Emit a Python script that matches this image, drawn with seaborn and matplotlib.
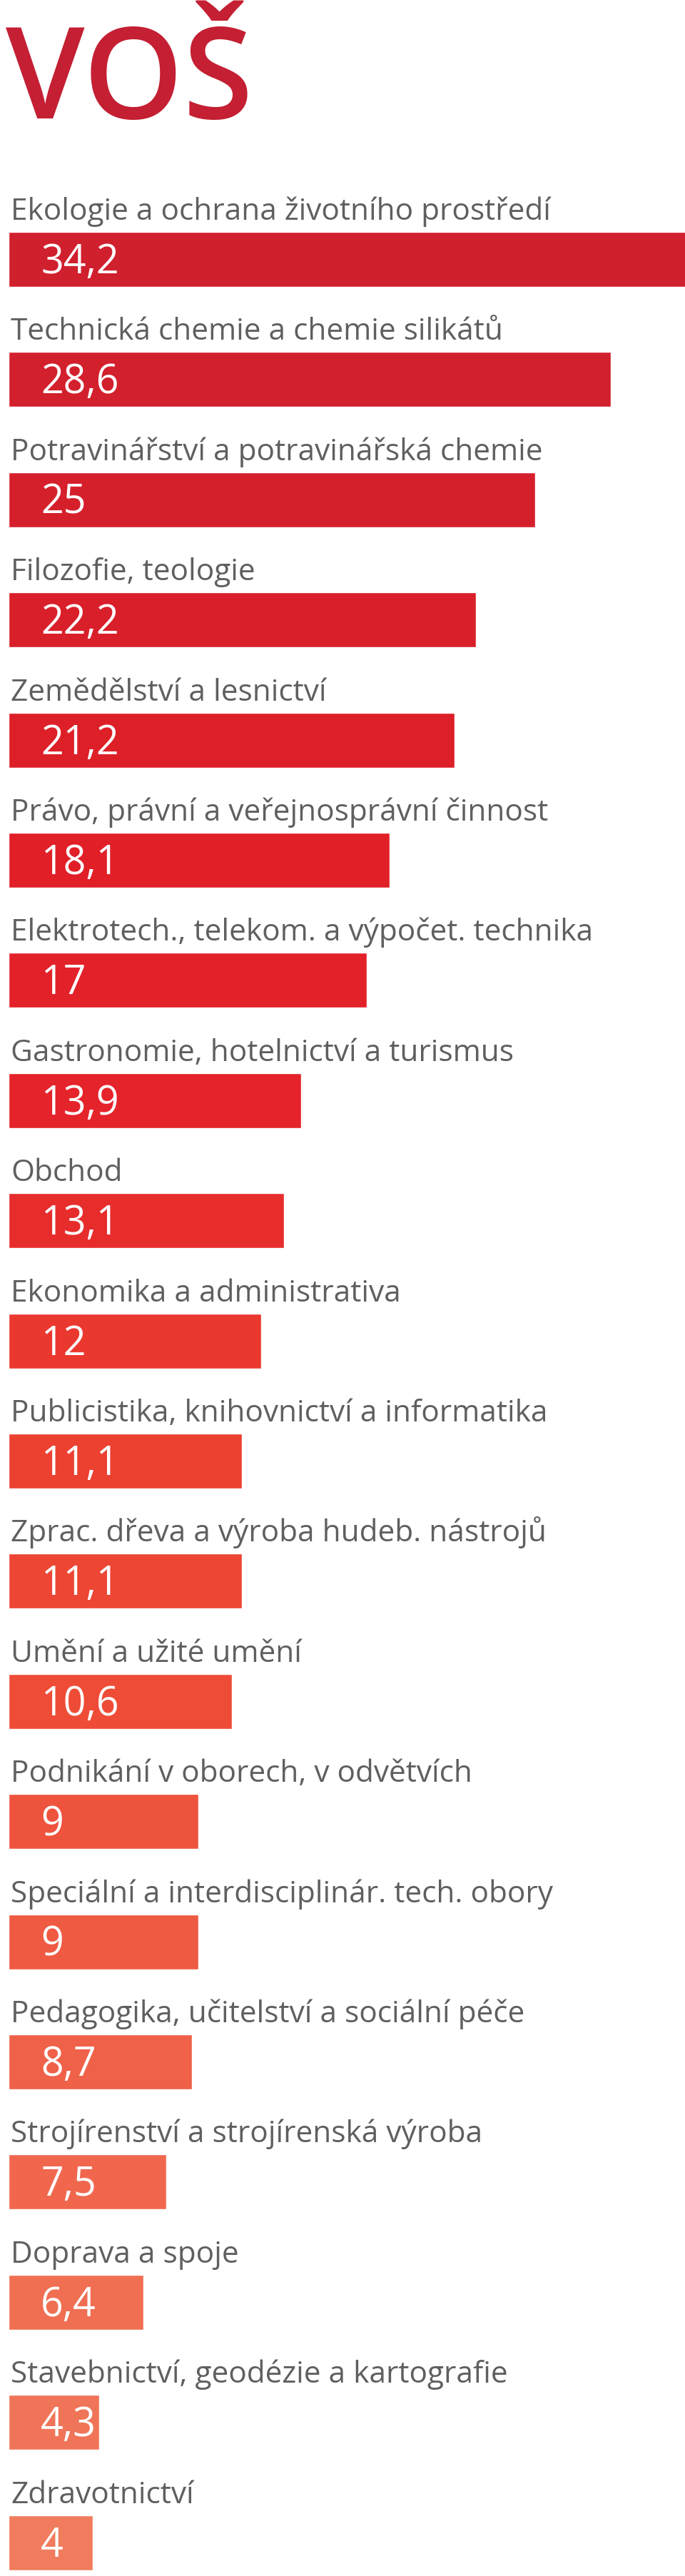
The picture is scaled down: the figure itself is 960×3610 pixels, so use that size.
import matplotlib
matplotlib.use("Agg")
import matplotlib.pyplot as plt
import seaborn as sns
import pandas as pd
import numpy as np
from matplotlib.colors import LinearSegmentedColormap

title = "VOŠ"
categories = [
    "Ekologie a ochrana životního prostředí",
    "Technická chemie a chemie silikátů",
    "Potravinářství a potravinářská chemie",
    "Filozofie, teologie",
    "Zemědělství a lesnictví",
    "Právo, právní a veřejnosprávní činnost",
    "Elektrotech., telekom. a výpočet. technika",
    "Gastronomie, hotelnictví a turismus",
    "Obchod",
    "Ekonomika a administrativa",
    "Publicistika, knihovnictví a informatika",
    "Zprac. dřeva a výroba hudeb. nástrojů",
    "Umění a užité umění",
    "Podnikání v oborech, v odvětvích",
    "Speciální a interdisciplinár. tech. obory",
    "Pedagogika, učitelství a sociální péče",
    "Strojírenství a strojírenská výroba",
    "Doprava a spoje",
    "Stavebnictví, geodézie a kartografie",
    "Zdravotnictví",
]
values = [34.2, 28.6, 25, 22.2, 21.2, 18.1, 17, 13.9, 13.1, 12, 11.1, 11.1,
          10.6, 9, 9, 8.7, 7.5, 6.4, 4.3, 4]
value_labels = ["34,2", "28,6", "25", "22,2", "21,2", "18,1", "17", "13,9",
                "13,1", "12", "11,1", "11,1", "10,6", "9", "9", "8,7", "7,5",
                "6,4", "4,3", "4"]

df = pd.DataFrame({"cat": categories, "val": values})

sns.set_theme(style="white")
plt.rcParams["font.family"] = ["Open Sans", "DejaVu Sans"]

W, H = 960, 3610
fig = plt.figure(figsize=(W / 100, H / 100), dpi=100)

pitch = 168.4
first_c, last_c = 363.5, 3563.0
ytop_lim, ybot_lim = -1.0, 19.27
top_px = first_c + ytop_lim * pitch
bot_px = last_c + (ybot_lim - 19) * pitch
left_px = 12
ax = fig.add_axes([left_px / W, (H - bot_px) / H, (W - left_px) / W, (bot_px - top_px) / H])

cmap = LinearSegmentedColormap.from_list(
    "reds", ["#D0202E", "#D6202B", "#E11E27", "#E5232A", "#EC3D30", "#EE4B36",
             "#EF5C44", "#F06B50", "#F07C5D"])
palette = [cmap(i / (len(values) - 1)) for i in range(len(values))]

sns.barplot(data=df, x="val", y="cat", hue="cat", palette=palette, legend=False,
            orient="h", width=77 / pitch, ax=ax, saturation=1)

px_per_unit = 29.5
ax.set_xlim(0, (W - left_px) / px_per_unit)
ax.set_ylim(ybot_lim, ytop_lim)
ax.axis("off")

trans = ax.get_yaxis_transform()
for i, (cat, lab) in enumerate(zip(categories, value_labels)):
    ax.text(3 / (W - left_px), i - 55.5 / pitch, cat, transform=trans,
            fontsize=30.5, color="#5F5F5F", va="baseline", ha="left")
    ax.text(45 / (W - left_px), i + 19.5 / pitch, lab, transform=trans,
            fontsize=40, color="white", va="baseline", ha="left")

fig.text(8 / W, 1 - 166 / H, title, fontsize=128, fontweight="semibold",
         color="#C41F33", va="baseline", ha="left")

fig.savefig("out.png", dpi=100)
